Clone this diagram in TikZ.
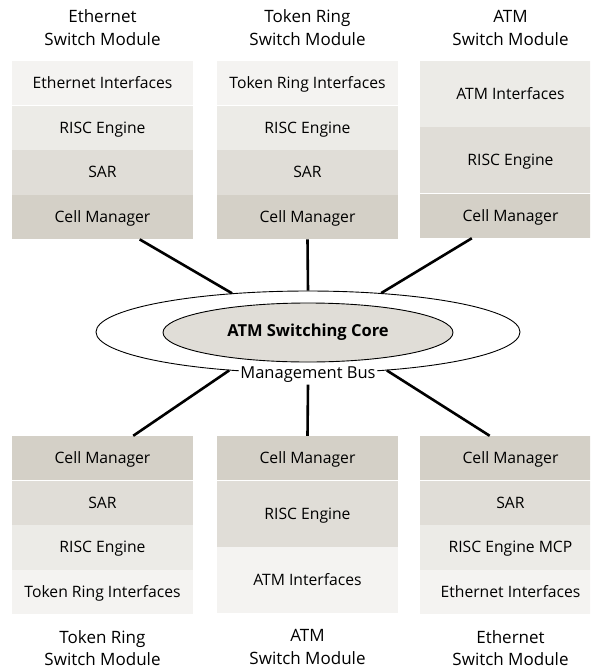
\documentclass[tikz,border=0pt]{standalone}
\usepackage{fontspec}
\setmainfont{Open Sans}
\usetikzlibrary{shapes,positioning}
\definecolor{cellgray}{HTML}{D4D0C7}
\definecolor{sargray}{HTML}{E0DDD7}
\definecolor{riscgray}{HTML}{ECEBE7}
\definecolor{ifgray}{HTML}{F4F3F1}

\begin{document}
\begin{tikzpicture}[x=1pt,y=-1pt,% pixel units, y going down
			every node/.style={
				align=center,  		% "\\" breaks the module titles
				font=\fontsize{15.7}{20}\selectfont
			},
			layer/.style={rectangle,inner sep=0pt,minimum width=181pt,minimum height=44.25pt,
				text height=11pt,text depth=0pt},	% same baseline in every layer
			tall/.style={layer,minimum height=66pt},
			title/.style={inner sep=0pt,font=\fontsize{17}{22.5}\selectfont},
			lowtitle/.style={title,anchor=south,yshift=-51.5pt},	% hangs under a lower module
			every edge/.style={draw,line width=2.6pt}
		]
		\useasboundingbox (0,0) rectangle (590,670);
		\clip (0,0) rectangle (590,670);
		% upper modules
		\node[layer,fill=ifgray](ethIf) at (102.5,83.1){Ethernet Interfaces};
		\node[layer,fill=riscgray](ethRisc)[below=0pt of ethIf]{RISC Engine};
		\node[layer,fill=sargray](ethSar)[below=0pt of ethRisc]{SAR};
		\node[layer,fill=cellgray](ethCell)[below=0pt of ethSar]{Cell Manager};
		\node[title](ethT)[above=15.3pt of ethIf]{Ethernet\\Switch Module};

		\node[layer,fill=ifgray](trIf) at (307.5,83.1){Token Ring Interfaces};
		\node[layer,fill=riscgray](trRisc)[below=0pt of trIf]{RISC Engine};
		\node[layer,fill=sargray](trSar)[below=0pt of trRisc]{SAR};
		\node[layer,fill=cellgray](trCell)[below=0pt of trSar]{Cell Manager};
		\node[title](trT)[above=15.3pt of trIf]{Token Ring\\Switch Module};

		\node[tall,fill=riscgray](atmIf) at (510.5,94){ATM Interfaces};
		\node[tall,fill=sargray](atmRisc)[below=0pt of atmIf]{RISC Engine};
		\node[layer,fill=cellgray](atmCell)[below=0pt of atmRisc]{Cell Manager};
		\node[title](atmT)[above=15.3pt of atmIf]{ATM\\Switch Module};

		% lower modules
		\node[layer,fill=cellgray](trbCell) at (102.5,458.1){Cell Manager};
		\node[layer,fill=sargray](trbSar)[below=0pt of trbCell]{SAR};
		\node[layer,fill=riscgray](trbRisc)[below=0pt of trbSar]{RISC Engine};
		\node[layer,fill=ifgray](trbIf)[below=0pt of trbRisc]{Token Ring Interfaces};
		\node[lowtitle](trbT) at (trbIf.south){Token Ring\\Switch Module};

		\node[layer,fill=cellgray](atmbCell) at (307.5,458.1){Cell Manager};
		\node[tall,fill=sargray](atmbRisc)[below=0pt of atmbCell]{RISC Engine};
		\node[tall,fill=ifgray](atmbIf)[below=0pt of atmbRisc]{ATM Interfaces};
		\node[lowtitle](atmbT) at (atmbIf.south){ATM\\Switch Module};

		\node[layer,fill=cellgray](ethbCell) at (510.5,458.1){Cell Manager};
		\node[layer,fill=sargray](ethbSar)[below=0pt of ethbCell]{SAR};
		\node[layer,fill=riscgray](ethbRisc)[below=0pt of ethbSar]{RISC Engine MCP};
		\node[layer,fill=ifgray](ethbIf)[below=0pt of ethbRisc]{Ethernet Interfaces};
		\node[lowtitle](ethbT) at (ethbIf.south){Ethernet\\Switch Module};

		% core and bus
		\node[ellipse,draw,line width=0.9pt,fill=white,inner sep=0pt,minimum width=424pt,minimum height=82pt](bus) at (308,332){};
		\node[ellipse,draw,line width=0.9pt,fill=sargray,inner sep=0pt,minimum width=290pt,minimum height=59pt,
			font=\fontsize{16.5}{20}\selectfont\bfseries](core) at (308,332.5){ATM Switching Core};
		\node[fill=white,inner sep=1.5pt,font=\fontsize{16.5}{20}\selectfont](busLbl) at (308,375){Management Bus};

		\path
		(ethCell.-31)edge (bus.153)
		(trCell.south)edge (bus.north)
		(atmCell.210)edge (bus.28)
		(trbCell.36)edge (bus.206)
		(busLbl.south)edge (atmbCell.north)
		(ethbCell.133)edge (bus.334)
		;
	\end{tikzpicture}
\end{document}
